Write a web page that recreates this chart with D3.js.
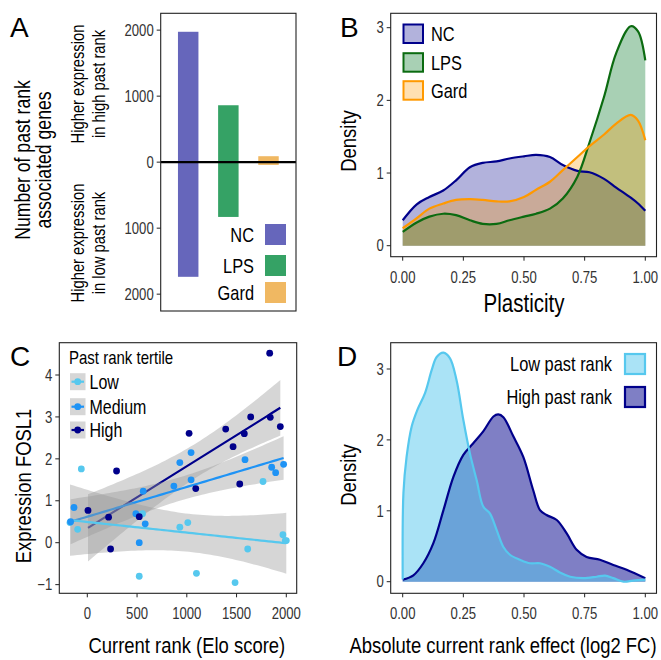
<!DOCTYPE html>
<html>
<head>
<meta charset="utf-8">
<script src="https://cdn.jsdelivr.net/npm/d3@7"></script>
<style>
  body { margin: 0; background: #fff; }
  text { font-family: "Liberation Sans", Arial, sans-serif; }
</style>
</head>
<body>
<script>
// ---- data ----
// A: number of past rank associated genes
var groupsA = ["NC", "LPS", "Gard"];
var upA = [1975, 862, 90];
var downA = [1737, 830, 42];
var coloursA = ["#6666bb", "#35a265", "#f0b862"];

// B: plasticity densities
var plastX = [0, 0.058, 0.11, 0.167, 0.22, 0.277, 0.33, 0.387, 0.44, 0.5, 0.55, 0.607, 0.66, 0.72, 0.77, 0.83, 0.88, 0.94, 0.97, 1.0];
var plastNC = [0.35, 0.57, 0.67, 0.76, 0.9, 1.08, 1.14, 1.16, 1.2, 1.23, 1.25, 1.22, 1.11, 1.03, 1.01, 0.92, 0.8, 0.66, 0.58, 0.48];
var plastLPS = [0.19, 0.32, 0.4, 0.44, 0.42, 0.35, 0.3, 0.3, 0.35, 0.4, 0.44, 0.51, 0.65, 0.95, 1.42, 2.05, 2.65, 3.02, 2.95, 2.55];
var plastGard = [0.24, 0.38, 0.51, 0.58, 0.63, 0.64, 0.63, 0.61, 0.61, 0.67, 0.77, 0.88, 1.04, 1.22, 1.37, 1.53, 1.68, 1.8, 1.72, 1.45];

// C: FOSL1 expression vs Elo score
var tertiles = ["Low", "Medium", "High"];
var lowElo  = [-174, -97, -60, 555, 522, 930, 1010, 1097, 1485, 1612, 1766, 1966, 1990, 2000];
var lowExpr = [0.48, 0.32, 1.76, 0.69, -0.80, 0.37, 0.48, -0.73, -0.95, -0.15, 1.46, 0.19, 0.05, 0.05];
var medElo  = [-168, -134, 488, 522, 562, 582, 870, 930, 1043, 1043, 1585, 1853, 1893, 1973];
var medExpr = [0.50, 0.84, 0.69, 0.0, 1.23, 0.45, 1.35, 1.91, 2.15, 1.50, 1.98, 1.80, 1.67, 1.87];
var highElo  = [7, 214, 234, 294, 522, 1023, 1090, 1391, 1465, 1532, 1578, 1642, 1833, 1839, 1940];
var highExpr = [0.77, 0.61, -0.15, 1.71, 0.62, 2.61, 1.29, 2.71, 2.29, 1.40, 2.60, 3.0, 4.52, 2.99, 2.77];
var tertColours = ["#56c8ee", "#1e93f5", "#00008b"];

// D: absolute current rank effect densities
var effLowX = [0, 0.003, 0.016, 0.037, 0.06, 0.092, 0.12, 0.14, 0.168, 0.195, 0.222, 0.25, 0.277, 0.305, 0.332, 0.36, 0.387, 0.415, 0.442, 0.483, 0.525, 0.566, 0.607, 0.648, 0.69, 0.745, 0.8, 0.834, 0.868, 0.91, 0.95, 1.0];
var effLowY = [0.03, 1.25, 1.76, 2.19, 2.42, 2.66, 2.99, 3.17, 3.23, 3.15, 2.84, 2.28, 1.81, 1.43, 1.06, 0.96, 0.73, 0.49, 0.38, 0.31, 0.26, 0.26, 0.21, 0.13, 0.07, 0.05, 0.07, 0.085, 0.05, 0.0, 0.015, 0.03];
var effHighX = [0, 0.044, 0.085, 0.126, 0.168, 0.209, 0.25, 0.29, 0.332, 0.374, 0.394, 0.415, 0.456, 0.497, 0.538, 0.566, 0.593, 0.635, 0.676, 0.717, 0.758, 0.813, 0.868, 0.923, 1.0];
var effHighY = [0.03, 0.09, 0.26, 0.54, 1.01, 1.48, 1.79, 1.95, 2.12, 2.33, 2.36, 2.32, 2.05, 1.76, 1.29, 1.01, 0.94, 0.87, 0.68, 0.45, 0.35, 0.31, 0.235, 0.17, 0.05];

var tickGrey = "#333333";
var narrow = 0.82;   // horizontal squeeze, stands in for a narrow font

var svg = d3.select("body").append("svg")
  .attr("width", 661).attr("height", 660);

// every text goes through here: x, y, string, size, anchor, rotated?
function label(x, y, str, size, anchor, rot, fill) {
  return svg.append("text")
    .attr("transform", "translate(" + x + "," + y + ")" + (rot ? " rotate(-90)" : "") + " scale(" + narrow + ",1)")
    .attr("text-anchor", anchor || "start")
    .attr("font-size", size)
    .attr("fill", fill || "#000")
    .text(str);
}

function box(x0, y0, x1, y1) {
  svg.append("rect").attr("x", x0).attr("y", y0)
    .attr("width", x1 - x0).attr("height", y1 - y0)
    .attr("fill", "none").attr("stroke", "#222").attr("stroke-width", 1.1);
}

function yTicks(scale, values, xAxis, fmt) {
  values.forEach(function(v) {
    svg.append("line").attr("x1", xAxis - 4).attr("x2", xAxis)
      .attr("y1", scale(v)).attr("y2", scale(v)).attr("stroke", "#222");
    label(xAxis - 7, scale(v) + 5.7, fmt(v), 16, "end", false, tickGrey);
  });
}

function xTicks(scale, values, yAxis, fmt) {
  values.forEach(function(v) {
    svg.append("line").attr("x1", scale(v)).attr("x2", scale(v))
      .attr("y1", yAxis).attr("y2", yAxis + 4).attr("stroke", "#222");
    label(scale(v), yAxis + 26, fmt(v), 16, "middle", false, tickGrey);
  });
}

function letter(x, y, str) {
  svg.append("text").attr("x", x).attr("y", y).attr("font-size", 28).text(str);
}

// ================= A =================
var aX0 = 160.7, aX1 = 296, aY0 = 13.3, aY1 = 311;
var yA = d3.scaleLinear().domain([-2255, 2255]).range([aY1, aY0]);
var xA = d3.scaleBand().domain(groupsA).range([aX0, aX1]).paddingInner(0.49).paddingOuter(0.43);

groupsA.forEach(function(g, i) {
  svg.append("rect").attr("x", xA(g)).attr("width", xA.bandwidth())
    .attr("y", yA(upA[i])).attr("height", yA(-downA[i]) - yA(upA[i]))
    .attr("fill", coloursA[i]);
});
svg.append("line").attr("x1", aX0).attr("x2", aX1)
  .attr("y1", yA(0)).attr("y2", yA(0)).attr("stroke", "#000").attr("stroke-width", 2.2);
box(aX0, aY0, aX1, aY1);
yTicks(yA, [-2000, -1000, 0, 1000, 2000], aX0, function(v) { return Math.abs(v); });

// legend A
groupsA.forEach(function(g, i) {
  var cy = [234, 265, 292][i];
  svg.append("rect").attr("x", 265).attr("y", cy - 10).attr("width", 21).attr("height", 21)
    .attr("fill", coloursA[i]);
  label(254, cy + 7.5, g, 20, "end");
});

label(30, 160, "Number of past rank", 21.5, "middle", true);
label(51, 160, "associated genes", 21.5, "middle", true);
label(84, 84, "Higher expression", 18, "middle", true);
label(105, 84, "in high past rank", 18, "middle", true);
label(84, 243, "Higher expression", 18, "middle", true);
label(105, 243, "in low past rank", 18, "middle", true);
letter(10, 37, "A");

// ================= B =================
var bX0 = 390.7, bX1 = 656.5, bY0 = 13.3, bY1 = 256.7;
var xB = d3.scaleLinear().domain([0, 1]).range([402.7, 645.3]);
var yB = d3.scaleLinear().domain([0, 3]).range([245.7, 27.7]);
var densB = [
  { name: "NC",   y: plastNC,   line: "#00008b", fill: "#00008b", op: 0.3 },
  { name: "LPS",  y: plastLPS,  line: "#0b6b10", fill: "#067929", op: 0.35 },
  { name: "Gard", y: plastGard, line: "#ff9900", fill: "#ff9900", op: 0.3 }
];
var areaB = d3.area().curve(d3.curveCatmullRom)
  .x(function(d) { return xB(d[0]); }).y0(yB(0)).y1(function(d) { return yB(d[1]); });
var lineB = d3.line().curve(d3.curveCatmullRom)
  .x(function(d) { return xB(d[0]); }).y(function(d) { return yB(d[1]); });
densB.forEach(function(s) {
  svg.append("path").attr("d", areaB(d3.zip(plastX, s.y))).attr("fill", s.fill).attr("fill-opacity", s.op);
});
densB.forEach(function(s) {
  svg.append("path").attr("d", lineB(d3.zip(plastX, s.y))).attr("fill", "none")
    .attr("stroke", s.line).attr("stroke-width", 2.2);
});
box(bX0, bY0, bX1, bY1);
yTicks(yB, [0, 1, 2, 3], bX0, d3.format("d"));
xTicks(xB, [0, 0.25, 0.5, 0.75, 1], bY1, d3.format(".2f"));
densB.forEach(function(s, i) {
  var y = [24, 52.7, 80.7][i];
  svg.append("rect").attr("x", 403.5).attr("y", y + 0.5).attr("width", 19.5).attr("height", 18.5)
    .attr("fill", "#fff");
  svg.append("rect").attr("x", 403.5).attr("y", y + 0.5).attr("width", 19.5).attr("height", 18.5)
    .attr("fill", s.fill).attr("fill-opacity", s.op)
    .attr("stroke", s.line).attr("stroke-width", 2);
  label(431, y + 17, s.name, 20);
});
label(356, 141, "Density", 22.5, "middle", true);
label(xB(0.5), 311.5, "Plasticity", 25, "middle");
letter(340, 37, "B");

// ================= C =================
var cX0 = 59.3, cX1 = 296.7, cY0 = 342.7, cY1 = 593.3;
var xC = d3.scaleLinear().domain([0, 2000]).range([87.3, 286.3]);
var yC = d3.scaleLinear().domain([0, 4]).range([542.7, 375]);
var groupsC = [
  { name: tertiles[0], x: lowElo,  y: lowExpr,  col: tertColours[0] },
  { name: tertiles[1], x: medElo,  y: medExpr,  col: tertColours[1] },
  { name: tertiles[2], x: highElo, y: highExpr, col: tertColours[2] }
];
var tTable = { 10: 2.228, 11: 2.201, 12: 2.179, 13: 2.160, 14: 2.145, 15: 2.131 };

// lm fit with 95% confidence band, like geom_smooth(method = "lm")
function fitLm(xs, ys) {
  var n = xs.length, mx = d3.mean(xs), my = d3.mean(ys);
  var sxx = d3.sum(xs, function(x) { return (x - mx) * (x - mx); });
  var sxy = d3.sum(xs, function(x, i) { return (x - mx) * (ys[i] - my); });
  var b = sxy / sxx, a = my - b * mx;
  var rss = d3.sum(xs, function(x, i) { var r = ys[i] - a - b * x; return r * r; });
  var s = Math.sqrt(rss / (n - 2));
  var t = tTable[n - 2] || 2.2;
  var ext = d3.extent(xs);
  var grid = d3.range(0, 61).map(function(k) { return ext[0] + (ext[1] - ext[0]) * k / 60; });
  return grid.map(function(x) {
    var fit = a + b * x;
    var se = s * Math.sqrt(1 / n + (x - mx) * (x - mx) / sxx);
    return { x: x, fit: fit, lo: fit - t * se, hi: fit + t * se };
  });
}

var bandC = d3.area().x(function(d) { return xC(d.x); })
  .y0(function(d) { return yC(d.lo); }).y1(function(d) { return yC(d.hi); });
var lineC = d3.line().x(function(d) { return xC(d.x); }).y(function(d) { return yC(d.fit); });

svg.append("clipPath").attr("id", "clipC").append("rect")
  .attr("x", cX0).attr("y", cY0).attr("width", cX1 - cX0).attr("height", cY1 - cY0);
var gC = svg.append("g").attr("clip-path", "url(#clipC)");
// High drawn first, as in the source figure
groupsC.slice().reverse().forEach(function(g) {
  var fit = fitLm(g.x, g.y);
  gC.append("path").attr("d", bandC(fit)).attr("fill", "#999999").attr("fill-opacity", 0.4);
  gC.append("path").attr("d", lineC(fit)).attr("fill", "none")
    .attr("stroke", g.col).attr("stroke-width", 2.2);
});
groupsC.forEach(function(g) {
  g.x.forEach(function(x, i) {
    gC.append("circle").attr("cx", xC(x)).attr("cy", yC(g.y[i])).attr("r", 3.4).attr("fill", g.col);
  });
});
box(cX0, cY0, cX1, cY1);
yTicks(yC, [-1, 0, 1, 2, 3, 4], cX0, d3.format("d"));
xTicks(xC, [0, 500, 1000, 1500, 2000], cY1, d3.format("d"));

label(69, 364, "Past rank tertile", 18.3);
groupsC.forEach(function(g, i) {
  var cy = [381.7, 406.7, 430][i];
  svg.append("rect").attr("x", 70).attr("y", cy - 8.5).attr("width", 15.5).attr("height", 17)
    .attr("fill", "#999999").attr("fill-opacity", 0.4);
  svg.append("line").attr("x1", 71.5).attr("x2", 84).attr("y1", cy).attr("y2", cy)
    .attr("stroke", g.col).attr("stroke-width", 2.2);
  svg.append("circle").attr("cx", 77.7).attr("cy", cy).attr("r", 3.4).attr("fill", g.col);
  label(89.5, cy + 7, g.name, 19.5);
});
label(31, 486, "Expression FOSL1", 22.5, "middle", true);
label(xC(1000), 652.5, "Current rank (Elo score)", 22.5, "middle");
letter(10, 366, "C");

// ================= D =================
var dX0 = 390.7, dX1 = 656.5, dY0 = 342.7, dY1 = 593.3;
var xD = d3.scaleLinear().domain([0, 1]).range([402.7, 645.3]);
var yD = d3.scaleLinear().domain([0, 3]).range([581.7, 369]);
var densD = [
  { name: "High past rank", x: effHighX, y: effHighY, col: "#00008b", op: 0.5 },
  { name: "Low past rank",  x: effLowX,  y: effLowY,  col: "#56c8ee", op: 0.5 }
];
var areaD = d3.area().curve(d3.curveCatmullRom)
  .x(function(d) { return xD(d[0]); }).y0(yD(0)).y1(function(d) { return yD(d[1]); });
var lineD = d3.line().curve(d3.curveCatmullRom)
  .x(function(d) { return xD(d[0]); }).y(function(d) { return yD(d[1]); });
densD.forEach(function(s) {
  svg.append("path").attr("d", areaD(d3.zip(s.x, s.y))).attr("fill", s.col).attr("fill-opacity", s.op);
});
densD.forEach(function(s) {
  svg.append("path").attr("d", lineD(d3.zip(s.x, s.y))).attr("fill", "none")
    .attr("stroke", s.col).attr("stroke-width", 2.2);
});
box(dX0, dY0, dX1, dY1);
yTicks(yD, [0, 1, 2, 3], dX0, d3.format("d"));
xTicks(xD, [0, 0.25, 0.5, 0.75, 1], dY1, d3.format(".2f"));
densD.slice().reverse().forEach(function(s, i) {
  var cy = [364, 397][i];
  svg.append("rect").attr("x", 625).attr("y", cy - 10).attr("width", 20).attr("height", 20).attr("fill", "#fff");
  svg.append("rect").attr("x", 625).attr("y", cy - 10).attr("width", 20).attr("height", 20)
    .attr("fill", s.col).attr("fill-opacity", s.op).attr("stroke", s.col).attr("stroke-width", 2.2);
  label(612, cy + 7, s.name, 20, "end");
});
label(356, 475, "Density", 22.5, "middle", true);
label(503, 652.5, "Absolute current rank effect (log2 FC)", 22.5, "middle");
letter(337, 366, "D");
</script>
</body>
</html>
